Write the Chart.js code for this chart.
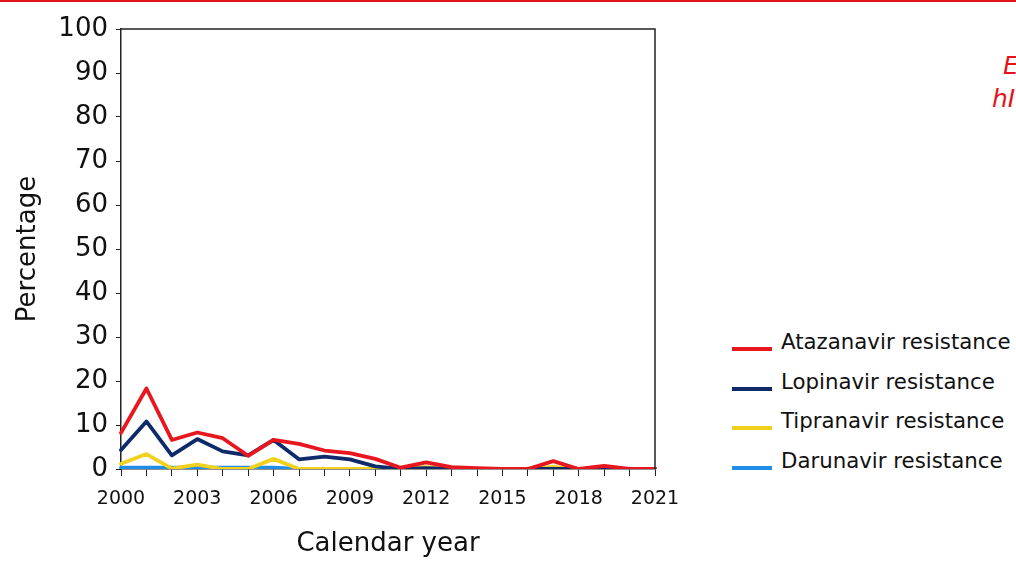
<!DOCTYPE html>
<html>
<head>
<meta charset="utf-8">
<script src="https://cdn.jsdelivr.net/npm/chart.js@4.4.1/dist/chart.umd.min.js"></script>
<style>
  html, body { margin: 0; padding: 0; background: #fff; overflow: hidden; }
  body { width: 1016px; height: 561px; position: relative; font-family: "DejaVu Sans", Verdana, sans-serif; }
  #topRule { position: absolute; left: 0; top: 0; width: 1016px; height: 2px; background: #e3131b; }
  #wrap { position: absolute; left: 0; top: 0; width: 700px; height: 561px; }
  #legend { position: absolute; left: 732px; top: 323px; }
  .row { position: relative; height: 39.5px; white-space: nowrap; }
  .row .swatch { position: absolute; left: 0; top: 24px; width: 40px; height: 4px; }
  .row .txt { position: absolute; left: 49px; top: 6px; font-size: 21.3px; color: #111; }
  .corner { position: absolute; color: #e3131b; font-style: italic; font-size: 25px; white-space: nowrap; }
</style>
</head>
<body>
<div id="topRule"></div>
<div class="corner" style="left:1003px; top:51px;">E</div>
<div class="corner" style="left:992px; top:84px;">hI</div>
<div id="wrap"><canvas id="resistChart"></canvas></div>
<div id="legend"></div>

<script>
// ============================================
// DATA
// ============================================

const years = ["2000","2001","2002","2003","2004","2005","2006","2007","2008","2009","2010",
               "2011","2012","2013","2014","2015","2016","2017","2018","2019","2020","2021"];

const atazanavir = [8.2, 18.3, 6.6, 8.3, 7.0, 3.0, 6.6, 5.7, 4.2, 3.6, 2.3,
                    0.3, 1.5, 0.4, 0.2, 0, 0, 1.8, 0, 0.7, 0, 0];
const lopinavir  = [4.3, 10.8, 3.1, 6.8, 4.0, 3.1, 6.6, 2.2, 2.8, 2.2, 0.6,
                    0, 0.2, 0, 0, 0, 0, 0, 0, 0, 0, 0];
const tipranavir = [1.2, 3.4, 0.1, 1.0, 0, 0, 2.3, 0, 0, 0, 0,
                    0, 0.4, 0, 0, 0, 0, 0.5, 0, 0, 0, 0];
const darunavir  = [0.3, 0.3, 0.3, 0.3, 0.3, 0.3, 0.3, 0, 0, 0, 0,
                    0, 0, 0, 0, 0, 0, 0, 0, 0, 0, 0];

const seriesNames = ["Atazanavir resistance", "Lopinavir resistance", "Tipranavir resistance", "Darunavir resistance"];
const seriesColors = ["#e8161e", "#0f2a6b", "#f2d11e", "#1e8ee8"];

// ============================================
// CHART
// ============================================

// closes the box on the top and right side
const frame = {
    id: "frame",
    afterDraw(chart) {
        const a = chart.chartArea;
        const ctx = chart.ctx;
        ctx.save();
        ctx.strokeStyle = "#222";
        ctx.lineWidth = 1.5;
        ctx.beginPath();
        ctx.moveTo(a.left, a.top);
        ctx.lineTo(a.right, a.top);
        ctx.lineTo(a.right, a.bottom);
        ctx.stroke();
        ctx.restore();
    }
};

const allSeries = [atazanavir, lopinavir, tipranavir, darunavir];

const resistChart = new Chart(
    document.getElementById("resistChart"),
    {
        type: "line",
        data: {
            labels: years,
            datasets: allSeries.map(function (vals, i) {
                return {
                    label: seriesNames[i],
                    data: vals,
                    borderColor: seriesColors[i],
                    backgroundColor: seriesColors[i],
                    borderWidth: 3.8,
                    pointRadius: 0,
                    tension: 0,
                    borderJoinStyle: "round",
                    borderCapStyle: "round"
                };
            })
        },
        options: {
            responsive: true,
            maintainAspectRatio: false,
            animation: false,
            layout: {
                padding: { top: 29, right: 45, bottom: 0, left: 0 }
            },
            plugins: {
                legend: { display: false },
                tooltip: { enabled: false }
            },
            scales: {
                x: {
                    afterFit(scale) { scale.height = 92; },
                    grid: {
                        drawOnChartArea: false,
                        drawTicks: true,
                        tickLength: 7,
                        tickColor: "#222",
                        offset: false
                    },
                    border: { color: "#222", width: 1.5 },
                    offset: false,
                    ticks: {
                        autoSkip: false,
                        maxRotation: 0,
                        padding: 12,
                        color: "#111",
                        font: { family: "DejaVu Sans", size: 19 },
                        callback: function (v, i) {
                            return i % 3 === 0 ? years[i] : "";
                        }
                    },
                    title: {
                        display: true,
                        text: "Calendar year",
                        color: "#111",
                        font: { family: "DejaVu Sans", size: 26 },
                        padding: { top: 2, bottom: 1 }
                    }
                },
                y: {
                    min: 0,
                    max: 100,
                    afterFit(scale) { scale.width = 121; },
                    grid: {
                        drawOnChartArea: false,
                        drawTicks: true,
                        tickLength: 5,
                        tickColor: "#222"
                    },
                    border: { color: "#222", width: 1.5 },
                    ticks: {
                        stepSize: 10,
                        padding: 8,
                        color: "#111",
                        font: { family: "DejaVu Sans", size: 26 }
                    },
                    title: {
                        display: true,
                        text: "Percentage",
                        color: "#111",
                        font: { family: "DejaVu Sans", size: 26 },
                        padding: { top: 13, bottom: 4 }
                    }
                }
            }
        },
        plugins: [frame]
    }
);

// ============================================
// LEGEND (built from the datasets)
// ============================================

const legendBox = document.getElementById("legend");
resistChart.data.datasets.forEach(function (ds) {
    const row = document.createElement("div");
    row.className = "row";
    row.innerHTML = '<span class="swatch" style="background:' + ds.borderColor + '"></span>' +
                    '<span class="txt">' + ds.label + '</span>';
    legendBox.appendChild(row);
});
</script>
</body>
</html>
